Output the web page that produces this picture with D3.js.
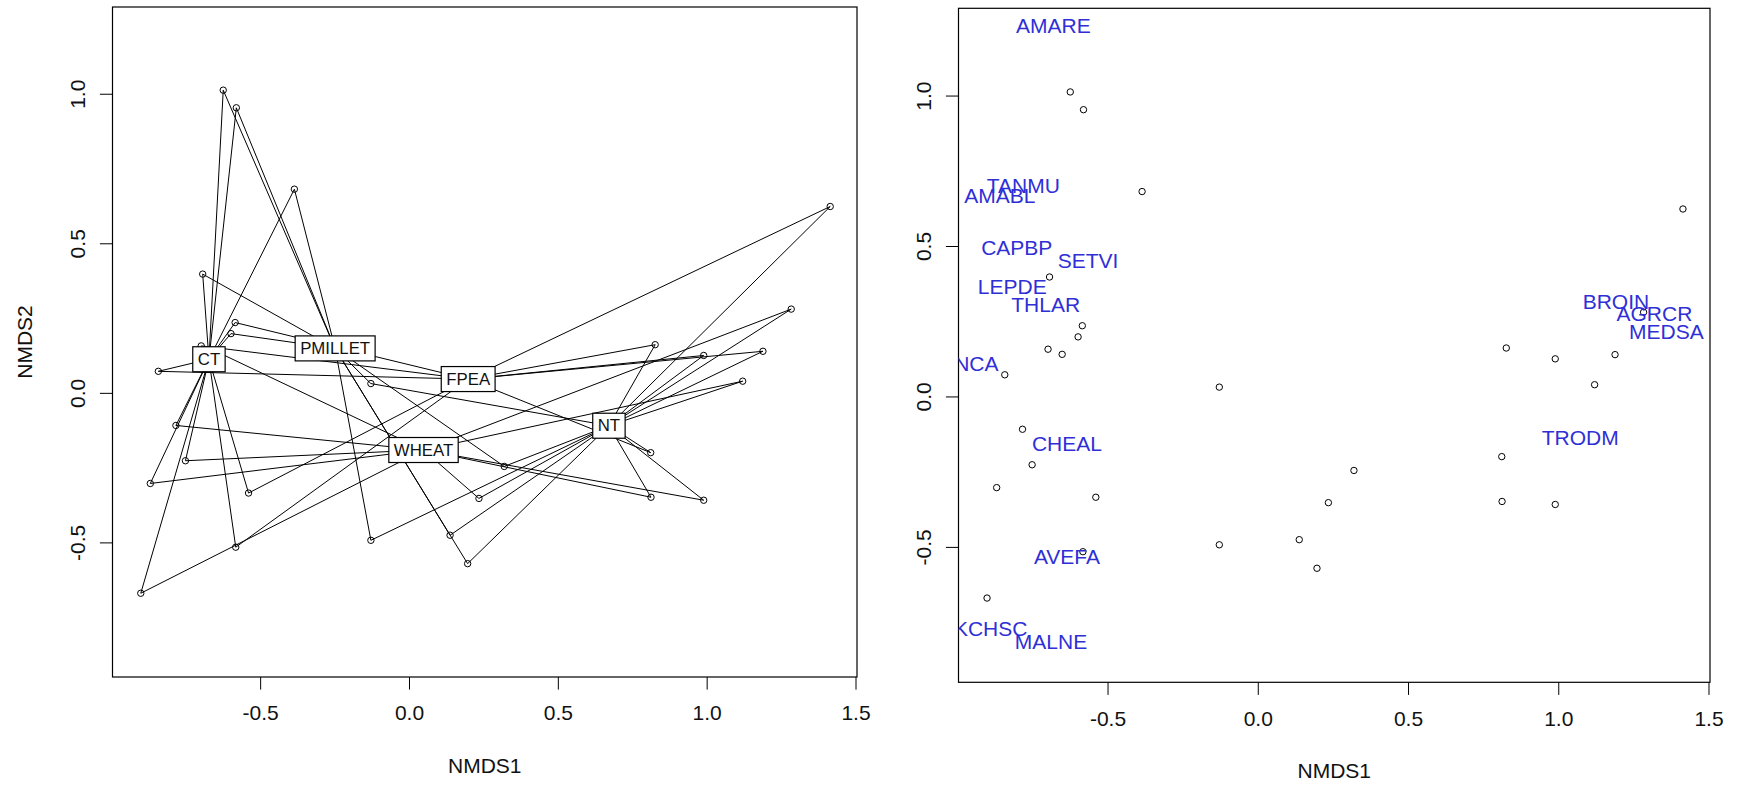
<!DOCTYPE html>
<html><head><meta charset="utf-8">
<script src="https://cdn.jsdelivr.net/npm/d3@7"></script>
<style>
body{margin:0;background:#fff}
svg{display:block}
text{font-family:"Liberation Sans",Arial,sans-serif}
</style>
</head><body>
<svg id="chart" width="1737" height="787"></svg>
<script>
// ---- site scores (NMDS1, NMDS2) ----
const siteX = [-0.624,-0.580,-0.385,-0.693,-0.584,-0.598,-0.698,-0.651,-0.842,-0.128,
               -0.783,-0.751,-0.869,-0.539,-0.582,-0.128,-0.901,0.235,0.138,0.197,
               0.320,0.812,0.813,0.990,0.827,0.990,1.189,1.121,1.284,1.415];
const siteY = [1.012,0.953,0.681,0.397,0.235,0.198,0.157,0.140,0.072,0.031,
               -0.109,-0.227,-0.303,-0.335,-0.516,-0.493,-0.670,-0.353,-0.476,-0.571,
               -0.246,-0.200,-0.349,-0.359,0.161,0.125,0.139,0.039,0.280,0.623];
// grouping factors
const tillage = ["CT","CT","CT","CT","CT","CT","CT","CT","CT","NT",
                 "CT","CT","CT","CT","CT","NT","CT","NT","NT","NT",
                 "NT","NT","NT","NT","NT","NT","NT","NT","NT","NT"];
const crop = ["PMILLET","PMILLET","PMILLET","PMILLET","FPEA","PMILLET","FPEA","WHEAT","FPEA","PMILLET",
              "WHEAT","WHEAT","WHEAT","FPEA","FPEA","PMILLET","WHEAT","WHEAT","PMILLET","PMILLET",
              "PMILLET","FPEA","WHEAT","WHEAT","FPEA","FPEA","FPEA","WHEAT","WHEAT","FPEA"];
const tillageLevels = ["CT","NT"];
const cropLevels = ["PMILLET","FPEA","WHEAT"];
// ---- species scores ----
const speciesNames = ["AMARE","TANMU","AMABL","CAPBP","SETVI","LEPDE","THLAR","CONCA","CHEAL","AVEFA","KCHSC","MALNE","BROIN","AGRCR","MEDSA","TRODM"];
const speciesX = [-0.680,-0.780,-0.858,-0.802,-0.565,-0.817,-0.706,-0.989,-0.635,-0.635,-0.889,-0.688,1.192,1.320,1.360,1.073];
const speciesY = [1.232,0.701,0.667,0.495,0.452,0.367,0.304,0.110,-0.156,-0.531,-0.771,-0.813,0.315,0.275,0.217,-0.135];
// ---- axes ----
const xTicks = [-0.5,0.0,0.5,1.0,1.5];
const yTicks = [-0.5,0.0,0.5,1.0];
const xlim = [-0.996,1.505];
const ylim = [-0.95,1.29];
const xLabel = "NMDS1";
const yLabel = "NMDS2";

const svg = d3.select("#chart");
const FONT = 21;
const fmt = d => d.toFixed(1);

function panel(box, showYLabel) {
  const x = d3.scaleLinear().domain(xlim).range([box.x0, box.x1]);
  const y = d3.scaleLinear().domain(ylim).range([box.y1, box.y0]);
  const g = svg.append("g");
  const ax = g.append("g").attr("transform",`translate(0,${box.y1})`)
    .call(d3.axisBottom(x).tickValues(xTicks).tickSize(12.6).tickFormat(fmt));
  ax.select(".domain").remove();
  ax.attr("font-size",FONT).attr("font-family","Liberation Sans, Arial, sans-serif");
  ax.selectAll(".tick line").attr("stroke","#000");
  ax.selectAll(".tick text").attr("fill","#111").attr("y",36).attr("dy","0.35em");
  const ay = g.append("g").attr("transform",`translate(${box.x0},0)`)
    .call(d3.axisLeft(y).tickValues(yTicks).tickSize(12.6).tickFormat(fmt));
  ay.select(".domain").remove();
  ay.attr("font-size",FONT).attr("font-family","Liberation Sans, Arial, sans-serif");
  ay.selectAll(".tick line").attr("stroke","#000");
  ay.selectAll(".tick text").attr("fill","#111").attr("x",0).attr("dy",0)
    .attr("text-anchor","middle").attr("dominant-baseline","central")
    .attr("transform","translate(-35,0) rotate(-90)");
  g.append("rect").attr("x",box.x0).attr("y",box.y0)
    .attr("width",box.x1-box.x0).attr("height",box.y1-box.y0)
    .attr("fill","none").attr("stroke","#000").attr("stroke-width",1.2);
  g.append("text").attr("x",(box.x0+box.x1)/2).attr("y",box.y1+88)
    .attr("text-anchor","middle").attr("dominant-baseline","central")
    .attr("font-size",FONT).attr("fill","#111").text(xLabel);
  if (showYLabel) {
    g.append("text").attr("transform",`translate(${box.x0-88},${(box.y0+box.y1)/2}) rotate(-90)`)
      .attr("text-anchor","middle").attr("dominant-baseline","central")
      .attr("font-size",FONT).attr("fill","#111").text(yLabel);
  }
  return {x,y,g};
}

const sites = siteX.map((v,i)=>({x:v,y:siteY[i],t:tillage[i],c:crop[i]}));

// ---- left panel: spiders ----
const L = panel({x0:112.5,x1:857,y0:7,y1:677}, true);
function centroids(key, levels){
  return levels.map(l=>{
    const s = sites.filter(d=>d[key]===l);
    return {name:l, key, x:d3.mean(s,d=>d.x), y:d3.mean(s,d=>d.y)};
  });
}
const cents = centroids("t",tillageLevels).concat(centroids("c",cropLevels));
const segs = [];
cents.forEach(c=>{
  sites.filter(d=>d[c.key]===c.name).forEach(d=>segs.push({c,d}));
});
L.g.append("g").selectAll("line").data(segs).join("line")
  .attr("x1",s=>L.x(s.c.x)).attr("y1",s=>L.y(s.c.y))
  .attr("x2",s=>L.x(s.d.x)).attr("y2",s=>L.y(s.d.y))
  .attr("stroke","#000").attr("stroke-width",1);
L.g.append("g").selectAll("circle").data(sites).join("circle")
  .attr("cx",d=>L.x(d.x)).attr("cy",d=>L.y(d.y)).attr("r",3.2)
  .attr("fill","none").attr("stroke","#000").attr("stroke-width",1);
const lab = L.g.append("g").selectAll("g").data(cents).join("g")
  .attr("transform",c=>`translate(${L.x(c.x)},${L.y(c.y)})`);
lab.append("rect");
lab.append("text").attr("text-anchor","middle").attr("dominant-baseline","central")
  .attr("font-size",16.8).attr("fill","#111").text(c=>c.name);
lab.each(function(){
  const gg = d3.select(this);
  const w = gg.select("text").node().getComputedTextLength() + 10;
  gg.select("rect").attr("x",-w/2).attr("y",-12.5).attr("width",w).attr("height",25)
    .attr("fill","#fff").attr("stroke","#000").attr("stroke-width",1.2);
});

// ---- right panel: sites + species ----
const R = panel({x0:958.5,x1:1710,y0:8.3,y1:682.3}, false);
svg.append("defs").append("clipPath").attr("id","clipR").append("rect")
  .attr("x",958.5).attr("y",8.3).attr("width",1710-958.5).attr("height",682.3-8.3);
R.g.append("g").selectAll("circle").data(sites).join("circle")
  .attr("cx",d=>R.x(d.x)).attr("cy",d=>R.y(d.y)).attr("r",3.2)
  .attr("fill","none").attr("stroke","#000").attr("stroke-width",1);
const species = speciesNames.map((n,i)=>({n,x:speciesX[i],y:speciesY[i]}));
R.g.append("g").attr("clip-path","url(#clipR)").selectAll("text").data(species).join("text")
  .attr("x",d=>R.x(d.x)).attr("y",d=>R.y(d.y))
  .attr("text-anchor","middle").attr("dominant-baseline","central")
  .attr("font-size",FONT).attr("fill","#2f2fd6").text(d=>d.n);
</script>
</body></html>
